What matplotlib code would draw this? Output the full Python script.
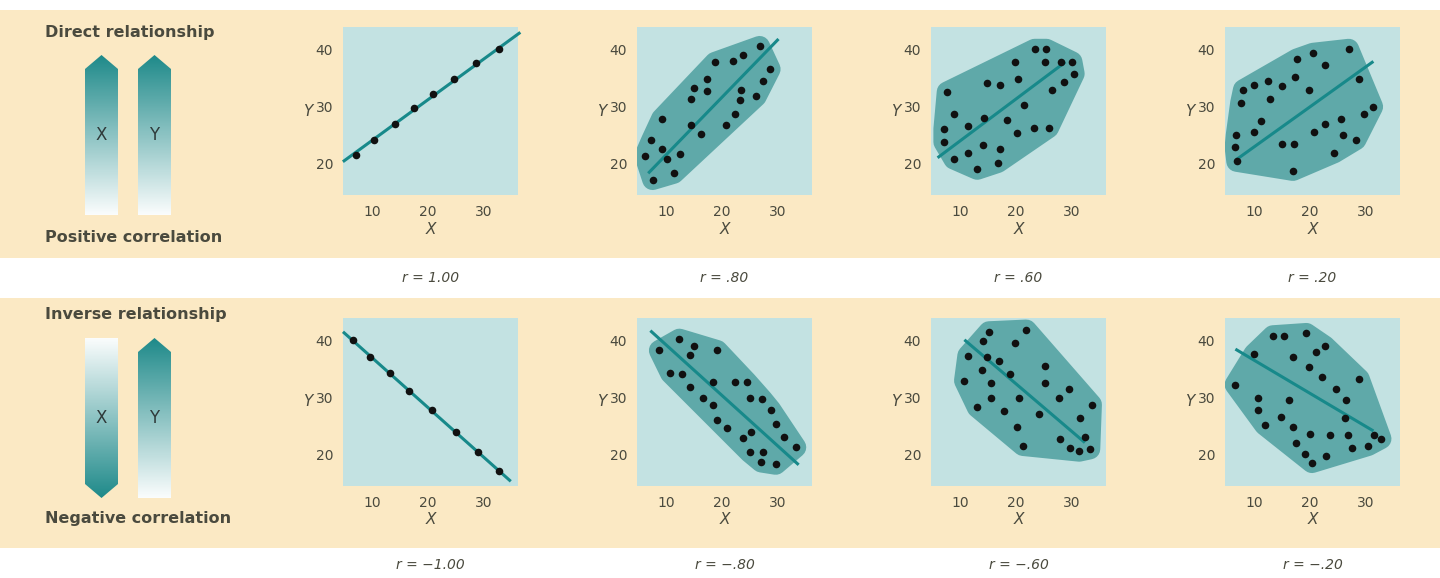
import numpy as np
import matplotlib
matplotlib.use("Agg")
import matplotlib.pyplot as plt
from matplotlib.patches import Polygon, Rectangle
from matplotlib.colors import LinearSegmentedColormap

# ---------------- data ----------------
r_labels_top = ["r = 1.00", "r = .80", "r = .60", "r = .20"]
r_labels_bot = ["r = \u22121.00", "r = \u2212.80", "r = \u2212.60", "r = \u2212.20"]
x_ticks = [10, 20, 30]
y_ticks = [20, 30, 40]

p100_x = [7.1, 10.3, 14.1, 17.6, 21.0, 24.8, 28.6, 32.8]
p100_y = [21.5, 24.2, 27.0, 29.8, 32.2, 34.9, 37.6, 40.2]
p100_line_x = [5.0, 36.4]; p100_line_y = [20.5, 42.9]

p80_x = [7.6, 6.2, 7.4, 9.2, 9.2, 10.2, 11.4, 12.6, 14.5, 14.5, 15.0, 16.2, 17.3, 17.3, 18.8,
         20.7, 22.1, 22.4, 23.3, 23.5, 23.9, 26.2, 26.8, 27.4, 28.7]
p80_y = [17.2, 21.4, 24.1, 27.9, 22.6, 20.8, 18.3, 21.7, 26.8, 31.3, 33.3, 25.2, 32.8, 34.9, 37.8,
         26.8, 38.0, 28.7, 31.2, 32.9, 39.1, 31.8, 40.6, 34.5, 36.6]
p80_line_x = [7.0, 30.0]; p80_line_y = [18.5, 41.7]

p60_x = [7.7, 7.1, 7.1, 9.0, 8.9, 11.4, 11.5, 13.1, 14.1, 14.3, 14.9, 17.1, 17.1, 16.8, 18.4,
         19.8, 20.2, 20.4, 21.5, 23.4, 25.5, 25.2, 23.2, 25.9, 26.5, 28.2, 28.7, 30.1, 30.5]
p60_y = [32.6, 26.1, 23.8, 28.8, 20.8, 26.7, 21.9, 19.0, 23.2, 28.1, 34.2, 33.8, 22.5, 20.2, 27.7,
         37.9, 25.4, 34.9, 30.3, 40.1, 40.1, 37.9, 26.3, 26.3, 32.9, 37.9, 34.4, 37.9, 35.8]
p60_line_x = [6.2, 28.7]; p60_line_y = [21.2, 37.7]

p20_x = [6.9, 6.6, 6.8, 7.6, 8.1, 10.0, 10.0, 11.2, 12.9, 12.6, 15.1, 15.1, 17.2, 17.4, 17.0,
         17.7, 19.8, 20.6, 20.8, 22.7, 22.7, 24.4, 25.7, 25.9, 27.0, 28.3, 28.9, 29.7, 31.3]
p20_y = [20.4, 22.9, 25.0, 30.7, 33.0, 33.9, 25.5, 27.5, 31.4, 34.6, 33.7, 23.5, 23.5, 35.2, 18.8,
         38.4, 32.9, 39.4, 25.5, 37.4, 27.0, 21.9, 27.9, 25.1, 40.1, 24.2, 34.9, 28.8, 30.0]
p20_line_x = [7.1, 31.2]; p20_line_y = [20.9, 37.8]

n100_x = [6.6, 9.7, 13.3, 16.7, 20.7, 25.0, 29.1, 32.8]
n100_y = [40.2, 37.2, 34.3, 31.2, 27.8, 24.0, 20.5, 17.1]
n100_line_x = [5.0, 34.7]; n100_line_y = [41.4, 15.5]

n80_x = [8.8, 12.4, 15.0, 14.3, 10.8, 12.9, 14.3, 16.7, 18.4, 19.2, 21.0, 18.4, 19.2, 22.4,
         24.5, 23.8, 25.2, 25.0, 25.0, 27.3, 28.8, 29.8, 27.4, 27.1, 29.7, 31.2, 33.3]
n80_y = [38.3, 40.3, 39.1, 37.5, 34.3, 34.2, 31.9, 30.0, 28.7, 26.1, 24.6, 32.8, 38.3, 32.8,
         32.8, 22.9, 23.9, 20.4, 30.0, 29.7, 27.9, 25.4, 20.4, 18.7, 18.3, 23.1, 21.3]
n80_line_x = [7.4, 33.6]; n80_line_y = [41.6, 18.4]

n60_x = [15.2, 14.1, 21.9, 19.8, 11.4, 14.9, 17.0, 13.9, 19.0, 15.5, 10.8, 25.3, 25.3, 13.1, 15.5,
         17.9, 20.6, 24.2, 27.7, 29.5, 20.2, 21.3, 27.9, 29.8, 31.4, 33.3, 31.6, 33.6, 32.4]
n60_y = [41.6, 39.9, 41.9, 39.6, 37.4, 37.1, 36.5, 34.8, 34.2, 32.6, 33.0, 35.5, 32.6, 28.3, 29.9,
         27.7, 29.9, 27.1, 29.9, 31.6, 24.8, 21.6, 22.7, 21.2, 20.6, 21.0, 26.4, 28.8, 23.1]
n60_line_x = [11.0, 32.2]; n60_line_y = [40.0, 22.3]

n20_x = [6.6, 10.0, 13.4, 15.3, 17.0, 19.4, 19.8, 21.1, 22.7, 22.2, 24.7, 26.6, 28.9, 10.7, 10.7,
         11.9, 14.8, 16.3, 17.0, 17.5, 20.1, 19.1, 20.4, 23.0, 23.7, 26.4, 26.8, 27.6, 30.5, 31.6, 32.8]
n20_y = [32.3, 37.7, 40.9, 40.9, 37.1, 41.3, 35.4, 38.1, 39.1, 33.7, 31.5, 29.6, 33.3, 30.0, 27.8,
         25.2, 26.7, 29.6, 24.8, 22.1, 23.7, 20.2, 18.6, 19.8, 23.5, 26.4, 23.5, 21.2, 21.6, 23.5, 22.8]
n20_line_x = [6.9, 31.2]; n20_line_y = [38.4, 24.3]

# ---------------- style ----------------
CREAM = "#fbe9c4"
PANEL = "#c3e2e2"
BLOB = "#5fa9a9"
LINE = "#17898a"
TXT = "#4a4a3e"
W, H = 1440, 578

fig = plt.figure(figsize=(14.4, 5.78), dpi=100)
fig.patch.set_facecolor("white")

def fx(px): return px / W
def fy(py): return 1 - py / H

axl = fig.add_axes([0, 0, 1, 1], zorder=-10)
axl.set_xlim(0, W); axl.set_ylim(H, 0); axl.axis("off")
for y0, y1 in [(10, 258), (298, 548)]:
    axl.add_patch(Rectangle((0, y0), W, y1 - y0, facecolor=CREAM, edgecolor="none", zorder=0))

def hull(px, py):
    pts = sorted(set(zip(px, py)))
    def cross(o, a, b):
        return (a[0]-o[0])*(b[1]-o[1]) - (a[1]-o[1])*(b[0]-o[0])
    lower, upper = [], []
    for p in pts:
        while len(lower) >= 2 and cross(lower[-2], lower[-1], p) <= 0:
            lower.pop()
        lower.append(p)
    for p in reversed(pts):
        while len(upper) >= 2 and cross(upper[-2], upper[-1], p) <= 0:
            upper.pop()
        upper.append(p)
    return lower[:-1] + upper[:-1]

panels_top = [(p100_x, p100_y, p100_line_x, p100_line_y, False),
              (p80_x, p80_y, p80_line_x, p80_line_y, True),
              (p60_x, p60_y, p60_line_x, p60_line_y, True),
              (p20_x, p20_y, p20_line_x, p20_line_y, True)]
panels_bot = [(n100_x, n100_y, n100_line_x, n100_line_y, False),
              (n80_x, n80_y, n80_line_x, n80_line_y, True),
              (n60_x, n60_y, n60_line_x, n60_line_y, True),
              (n20_x, n20_y, n20_line_x, n20_line_y, True)]

col_x = [343, 637, 931, 1225]
pw = 175
rows = [(27, 195, panels_top, r_labels_top, 278), (318, 486, panels_bot, r_labels_bot, 565)]

for (top, bot, panels, rlabs, ry) in rows:
    for i, (xs, ys, lx, ly, blob) in enumerate(panels):
        ax = fig.add_axes([fx(col_x[i]), fy(bot), pw / W, (bot - top) / H])
        ax.set_facecolor(PANEL)
        ax.set_xlim(4.8, 36.2)
        ax.set_ylim(14.5, 44)
        for s in ax.spines.values():
            s.set_visible(False)
        if blob:
            hp = hull(xs, ys)
            ax.add_patch(Polygon(hp, closed=True, facecolor=BLOB, edgecolor=BLOB,
                                 linewidth=15, joinstyle="round", zorder=1))
        ax.plot(lx, ly, color=LINE, lw=2.2, zorder=2, clip_on=False)
        ax.scatter(xs, ys, s=30, color="#111111", zorder=3, linewidths=0)
        ax.set_xticks(x_ticks)
        ax.set_yticks(y_ticks)
        ax.tick_params(length=0, labelsize=10, colors=TXT, pad=7)
        ax.set_xlabel("X", fontsize=11, color=TXT, style="italic", labelpad=2)
        ax.set_ylabel("Y", fontsize=11, color=TXT, style="italic", rotation=0,
                      labelpad=6, va="center")
        fig.text(fx(col_x[i] + pw / 2), fy(ry), rlabs[i], ha="center", va="center",
                 fontsize=10, color=TXT, style="italic")

for (py, s) in [(32, "Direct relationship"), (237, "Positive correlation"),
                (315, "Inverse relationship"), (519, "Negative correlation")]:
    fig.text(fx(45), fy(py), s, fontsize=11.5, color=TXT, weight="bold", va="center")

cmap = LinearSegmentedColormap.from_list("tg", ["#ffffff", "#1f8a8a"])

def arrow(x0, x1, y0, y1, point_up, dark_top, label):
    xc = (x0 + x1) / 2
    tip = 14
    if point_up:
        verts = [(xc, y0), (x1, y0 + tip), (x1, y1), (x0, y1), (x0, y0 + tip)]
    else:
        verts = [(x0, y0), (x1, y0), (x1, y1 - tip), (xc, y1), (x0, y1 - tip)]
    poly = Polygon(verts, closed=True, facecolor="none", edgecolor="none")
    axl.add_patch(poly)
    grad = np.linspace(1, 0.02, 256).reshape(-1, 1)
    if not dark_top:
        grad = grad[::-1]
    im = axl.imshow(grad, cmap=cmap, vmin=0, vmax=1, extent=[x0, x1, y1, y0],
                    aspect="auto", zorder=2)
    im.set_clip_path(poly)
    axl.text(xc, (y0 + y1) / 2, label, ha="center", va="center", fontsize=12,
             color="#2f3a3a", zorder=3)

arrow(85, 118, 55, 215, True, True, "X")
arrow(138, 171, 55, 215, True, True, "Y")
arrow(85, 118, 338, 498, False, False, "X")
arrow(138, 171, 338, 498, True, True, "Y")
axl.set_xlim(0, W); axl.set_ylim(H, 0)

fig.savefig("out.png", dpi=100)
